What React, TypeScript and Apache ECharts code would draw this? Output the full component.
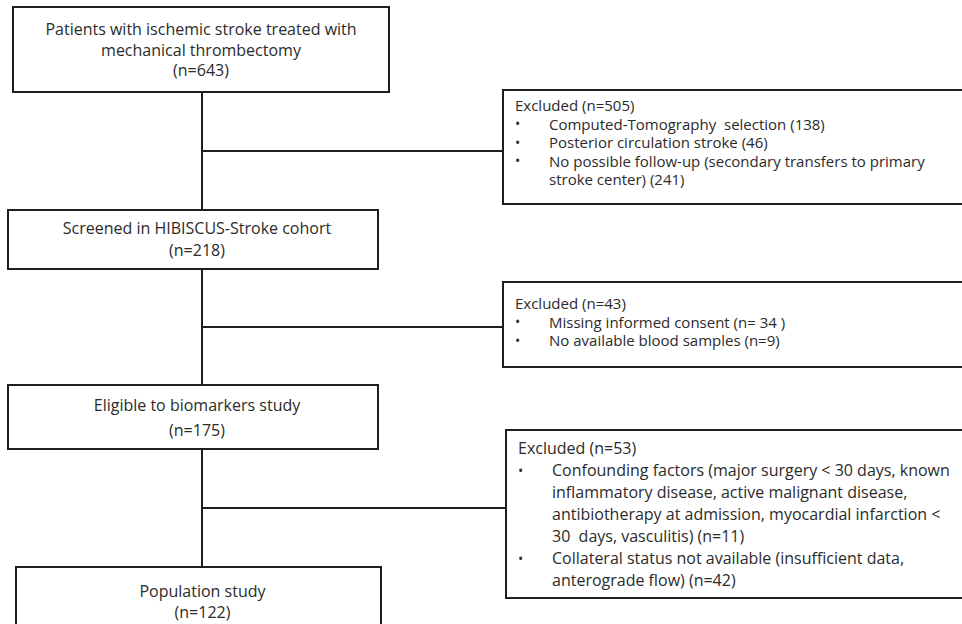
import React, { useEffect, useRef } from "react";
import * as echarts from "echarts";

// Main flow boxes (text lines) and counts
const mainLines: string[][] = [
  ["Patients with ischemic stroke treated with", "mechanical thrombectomy"],
  ["Screened in HIBISCUS-Stroke cohort"],
  ["Eligible to biomarkers study"],
  ["Population study"],
];
const mainCounts: number[] = [643, 218, 175, 122];

// Exclusion boxes
const exclusionCounts: number[] = [505, 43, 53];
const exclusionItems: string[][][] = [
  [
    ["Computed-Tomography  selection (138)"],
    ["Posterior circulation stroke (46)"],
    ["No possible follow-up (secondary transfers to primary", "stroke center) (241)"],
  ],
  [
    ["Missing informed consent (n= 34 )"],
    ["No available blood samples (n=9)"],
  ],
  [
    [
      "Confounding factors (major surgery < 30 days, known",
      "inflammatory disease, active malignant disease,",
      "antibiotherapy at admission, myocardial infarction <",
      "30  days, vasculitis) (n=11)",
    ],
    ["Collateral status not available (insufficient data,", "anterograde flow) (n=42)"],
  ],
];

// Layout (positions only)
const mainBoxGeom = [
  { x: 13, y: 7, w: 376, h: 85, firstLine: 29, lineH: 20.5, dx: 0 },
  { x: 8, y: 210, w: 370, h: 59, firstLine: 228, lineH: 22, dx: 4 },
  { x: 8, y: 385, w: 370, h: 64, firstLine: 405, lineH: 25, dx: 4 },
  { x: 16, y: 567, w: 365, h: 80, firstLine: 591, lineH: 20.5, dx: 4 },
];
const exclGeom = [
  { x: 503, y: 90, w: 480, h: 114, firstLine: 105, lineH: 18.6, connY: 151, fs: 15 },
  { x: 503, y: 282, w: 480, h: 85, firstLine: 303, lineH: 18.6, connY: 327, fs: 15 },
  { x: 506, y: 430, w: 480, h: 168, firstLine: 448, lineH: 22, connY: 508, fs: 16 },
];
const trunkX = 202;

const FAMILY = "'Open Sans', Lato, sans-serif";
const TXT = "#2b2b2b";
const LINE = "#1e1e1e";

export default function App() {
  const ref = useRef<HTMLDivElement>(null);
  useEffect(() => {
    if (!ref.current) return;
    const chart = echarts.init(ref.current, undefined, { renderer: "svg" });
    const els: any[] = [];

    // connecting lines (drawn first, boxes on top)
    for (let i = 0; i < mainBoxGeom.length - 1; i++) {
      const a = mainBoxGeom[i];
      const b = mainBoxGeom[i + 1];
      els.push({
        type: "line",
        shape: { x1: trunkX, y1: a.y + a.h, x2: trunkX, y2: b.y },
        style: { stroke: LINE, lineWidth: 2 },
      });
    }
    exclGeom.forEach((g) => {
      els.push({
        type: "line",
        shape: { x1: trunkX, y1: g.connY, x2: g.x, y2: g.connY },
        style: { stroke: LINE, lineWidth: 2 },
      });
    });

    // main boxes
    mainBoxGeom.forEach((g, i) => {
      els.push({
        type: "rect",
        shape: { x: g.x, y: g.y, width: g.w, height: g.h },
        style: { fill: "#fff", stroke: LINE, lineWidth: 2 },
      });
      const lines = [...mainLines[i], `(n=${mainCounts[i]})`];
      els.push({
        type: "text",
        style: {
          text: lines.join("\n"),
          x: g.x + g.w / 2 + g.dx,
          y: g.firstLine - g.lineH / 2,
          fontFamily: FAMILY,
          fontSize: 16,
          lineHeight: g.lineH,
          fill: TXT,
          align: "center",
          verticalAlign: "top",
        },
      });
    });

    // exclusion boxes
    exclGeom.forEach((g, i) => {
      els.push({
        type: "rect",
        shape: { x: g.x, y: g.y, width: g.w, height: g.h },
        style: { fill: "#fff", stroke: LINE, lineWidth: 2 },
      });
      const rows: string[] = [`{h|Excluded (n=${exclusionCounts[i]})}`];
      exclusionItems[i].forEach((item) => {
        item.forEach((t, k) => {
          rows.push(`{b|${k === 0 ? "•" : " "}}{t|${t}}`);
        });
      });
      const base = { fontFamily: FAMILY, fontSize: g.fs, lineHeight: g.lineH, fill: TXT };
      els.push({
        type: "text",
        style: {
          text: rows.join("\n"),
          x: g.x + 12,
          y: g.firstLine - g.lineH / 2,
          fontFamily: FAMILY,
          fontSize: g.fs,
          lineHeight: g.lineH,
          fill: TXT,
          align: "left",
          verticalAlign: "top",
          rich: {
            h: { ...base },
            b: { ...base, fontSize: 14, width: 34 },
            t: { ...base },
          },
        },
      });
    });

    chart.setOption({
      animation: false,
      backgroundColor: "#fff",
      graphic: { elements: els },
    });
    return () => chart.dispose();
  }, []);
  return (
    <div
      ref={ref}
      style={{ position: "fixed", left: 0, top: 0, width: 962, height: 624, background: "#fff" }}
    />
  );
}
